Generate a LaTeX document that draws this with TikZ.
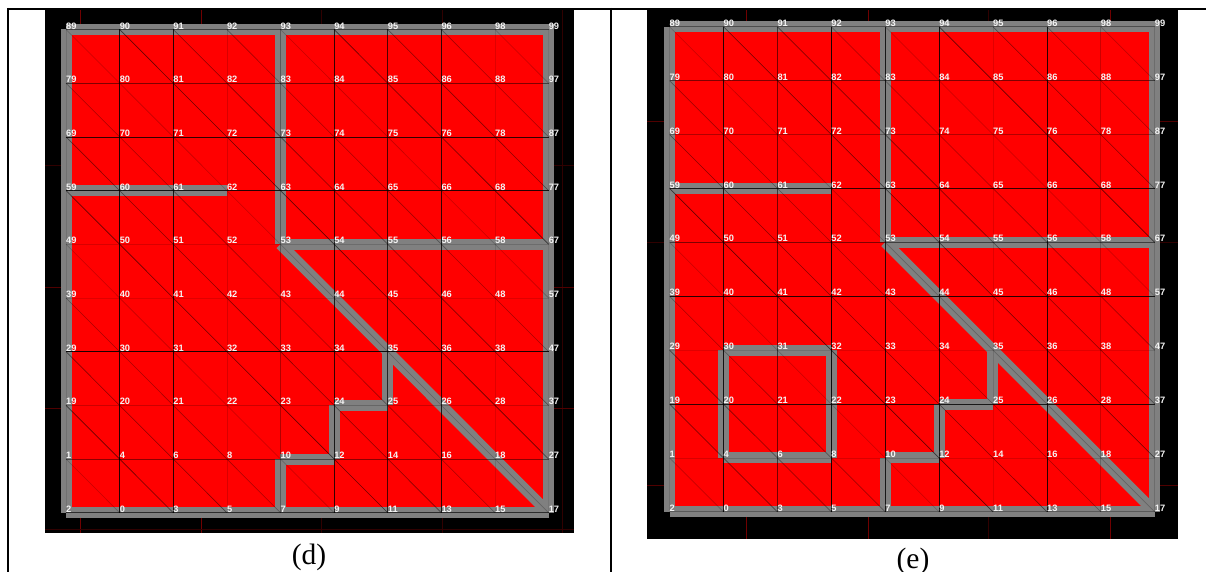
\documentclass[tikz,border=0pt]{standalone}
\usepackage{fontspec}
\setmainfont{Liberation Serif}
\newfontfamily\lblfont{Liberation Sans}
\definecolor{wallgray}{HTML}{808080}
\definecolor{lblwhite}{HTML}{F4F4F4}
\definecolor{tickA}{HTML}{700000}
\definecolor{tickM}{HTML}{500000}
\definecolor{tickB}{HTML}{300000}
\tikzset{
  panelbg/.style={fill=black,draw=none},
  field/.style={fill=red,draw=none},
  wall/.style={draw=wallgray,line width=11pt,line cap=butt},
  wallx/.style={wall,shorten >=-5.5pt},
  mesh/.style={draw=black,line width=0.7pt},
  diag/.style={draw=black,line width=0.6pt},
  tickbright/.style={draw=tickA,line width=0.7pt},
  tickmid/.style={draw=tickM,line width=0.7pt},
  tickdim/.style={draw=tickB,line width=0.7pt},
  vlabel/.style={anchor=base west,inner sep=0pt,outer sep=0pt,text=lblwhite,
    font=\lblfont\bfseries\fontsize{9.3pt}{9.3pt}\selectfont,xshift=0.2pt,yshift=0.4pt},
  caption/.style={anchor=base,inner sep=0pt,font=\fontsize{29.5pt}{29.5pt}\selectfont,text=black},
  tablerule/.style={draw=black,line width=2pt},
}
\newcommand{\gridlabels}{{89,90,91,92,93,94,95,96,98,99},{79,80,81,82,83,84,85,86,88,97},{69,70,71,72,73,74,75,76,78,87},{59,60,61,62,63,64,65,66,68,77},{49,50,51,52,53,54,55,56,58,67},{39,40,41,42,43,44,45,46,48,57},{29,30,31,32,33,34,35,36,38,47},{19,20,21,22,23,24,25,26,28,37},{1,4,6,8,10,12,14,16,18,27},{2,0,3,5,7,9,11,13,15,17}}
% #1 panel prefix, #2 origin x, #3 origin y, #4 step x, #5 step y
\newcommand{\makevertices}[5]{%
  \foreach \lbls [count=\r from 0] in \gridlabels {
    \foreach \l [count=\c from 0] in \lbls {
      \coordinate (#1-\r-\c) at ({#2+\c*#4},{#3+\r*#5});
      \coordinate (#1\l) at (#1-\r-\c);
    }
  }%
}
\newcommand{\makelabels}[1]{%
  \foreach \lbls in \gridlabels {
    \foreach \l in \lbls {
      \node[vlabel] (#1lab\l) at (#1\l) {\l};
    }
  }%
}
\newcommand{\makediagonals}[1]{%
  \foreach \r [evaluate=\r as \rn using int(\r+1)] in {0,...,8} {
    \foreach \c [evaluate=\c as \cn using int(\c+1),
                 evaluate=\c as \sh using {0.22+0.12*mod(\r*5+\c*3,4)}] in {0,...,8} {
      \draw[diag,opacity=\sh] (#1-\r-\c) -- (#1-\rn-\cn);
    }
  }%
}
\begin{document}
\begin{tikzpicture}[x=1pt,y=-1pt]
\useasboundingbox (0,0) rectangle (1206,572);
\fill[white] (0,0) rectangle (1206,572);

% ---------- panel backgrounds ----------
\fill[panelbg] (45,10) rectangle (574,533);
\fill[panelbg] (647,10) rectangle (1178,539);

% ---------- faint lattice in the background ----------
\foreach \x in {80.3,201.3} \draw[tickbright] (\x,10) -- (\x,533);
\foreach \x in {321.7,442.5,562.7} \draw[tickdim] (\x,10) -- (\x,533);
\foreach \y in {287,408} \draw[tickmid] (45,\y) -- (574,\y);
\foreach \y in {165.7,529} \draw[tickdim] (45,\y) -- (574,\y);
\foreach \x in {746,868,1110} \draw[tickbright] (\x,10) -- (\x,539);
\draw[tickdim] (988,10) -- (988,539);
\foreach \y in {121.7,485} \draw[tickmid] (647,\y) -- (1178,\y);
\draw[tickdim] (647,242.5) -- (1178,242.5);

% ---------- vertices ----------
\makevertices{d}{66}{29.5}{53.62}{53.69}
\makevertices{e}{669.5}{26.7}{53.91}{53.9}

% ---------- red fields ----------
\fill[field] (d89) rectangle (d17);
\fill[field] (e89) rectangle (e17);

% ---------- walls, panel (d) ----------
\draw[wallx] (d89) -- (d99);
\draw[wall] (d99) -- (d17);
\draw[wall] (d2) -- (d17);
\draw[wall] (d89) -- (d2);
\draw[wall] (d93) -- (d53);
\draw[wall] (d53) -- (d67);
\draw[wall] (d59) -- (d62);
\draw[wall] (d53) -- (d17);
\draw[wall] (d35) -- (d25);
\draw[wall] (d24) -- (d25);
\draw[wall] (d24) -- (d12);
\draw[wall] (d10) -- (d12);
\draw[wall] (d10) -- (d7);

% ---------- walls, panel (e) ----------
\draw[wallx] (e89) -- (e99);
\draw[wall] (e99) -- (e17);
\draw[wall] (e2) -- (e17);
\draw[wall] (e89) -- (e2);
\draw[wall] (e93) -- (e53);
\draw[wall] (e53) -- (e67);
\draw[wall] (e59) -- (e62);
\draw[wall] (e53) -- (e17);
\draw[wall] (e35) -- (e25);
\draw[wall] (e24) -- (e25);
\draw[wall] (e24) -- (e12);
\draw[wall] (e10) -- (e12);
\draw[wall] (e10) -- (e7);
\draw[wall] (e30) -- (e32);
\draw[wall] (e32) -- (e8);
\draw[wall] (e4) -- (e8);
\draw[wall] (e30) -- (e4);

% ---------- mesh, panel (d) ----------
\makediagonals{d}
\foreach \r/\o in {0/.5,1/.5,2/.8,3/.85,4/.15,5/.12,6/.9,7/.2,8/.45,9/.65}
  \draw[mesh,opacity=\o] (d-\r-0) -- (d-\r-9);
\foreach \c/\o in {0/.12,1/.85,2/.85,3/.15,4/.3,5/.8,6/.7,7/.8,8/.12,9/.08}
  \draw[mesh,opacity=\o] (d-0-\c) -- (d-9-\c);

% ---------- mesh, panel (e) ----------
\makediagonals{e}
\foreach \r/\o in {0/.4,1/.5,2/.3,3/.8,4/.5,5/.85,6/.12,7/.8,8/.15,9/.3}
  \draw[mesh,opacity=\o] (e-\r-0) -- (e-\r-9);
\foreach \c/\o in {0/.12,1/.85,2/.55,3/.9,4/.8,5/.85,6/.12,7/.85,8/.2,9/.15}
  \draw[mesh,opacity=\o] (e-0-\c) -- (e-9-\c);

% ---------- vertex numbers ----------
\makelabels{d}
\makelabels{e}

% ---------- table rules ----------
\draw[tablerule] (7,9) -- (1206,9);
\draw[tablerule] (8,8) -- (8,572);
\draw[tablerule] (611,8) -- (611,572);

% ---------- captions ----------
\node[caption] (capd) at (309,564) {(d)};
\node[caption] (cape) at (913,568) {(e)};
\end{tikzpicture}
\end{document}
